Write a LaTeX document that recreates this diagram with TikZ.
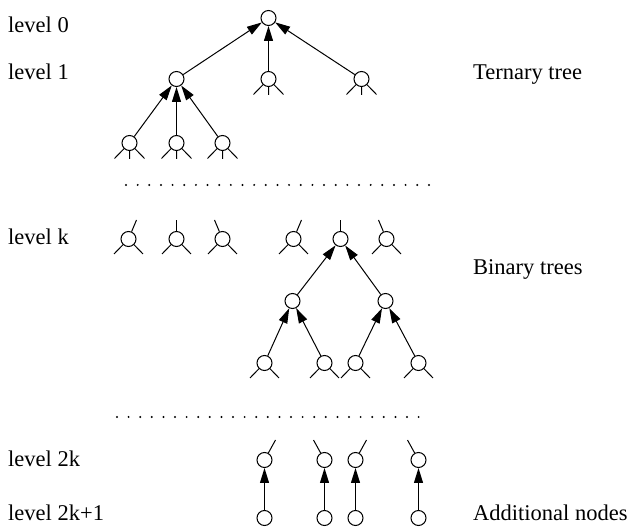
\documentclass[tikz,border=0pt]{standalone}
\usepackage{fontspec}
\setmainfont{Liberation Serif}
\usetikzlibrary{arrows.meta}
\begin{document}
\begin{tikzpicture}[x=1pt,y=-1pt,
  vx/.style={circle,draw,line width=1pt,minimum size=15pt,inner sep=0pt},
  leg/.style={line width=1pt},
  up/.style={line width=1pt,-{Triangle[length=15pt,width=9pt]}},
  lbl/.style={font=\fontsize{22.5}{22.5}\selectfont,inner sep=0pt,anchor=base west}]
\useasboundingbox (0,0) rectangle (630,529);

% ternary tree
\node[vx] (r)  at (268.5,18) {};
\node[vx] (a)  at (176.5,79) {};
\node[vx] (b)  at (268.5,79) {};
\node[vx] (c)  at (361.5,79) {};
\node[vx] (a1) at (129.5,143) {};
\node[vx] (a2) at (176.5,143) {};
\node[vx] (a3) at (222.5,143) {};
\foreach \s/\t in {a/r,b/r,c/r,a1/a,a2/a,a3/a}
  \draw[up] (\s) -- (\t);
\foreach \n in {b,c,a1,a2,a3}
  \draw[leg] (\n) -- +(-15,15.5) (\n) -- +(0,16) (\n) -- +(15,15.5);

% dotted separator
\foreach \i in {0,...,26}
  \fill (126+\i*11.65,185) circle (1.1pt);

% level k
\foreach \n/\x/\d in {k1/128.5/8,k2/176.5/0,k3/222.5/-8,k4/293.5/8,k5/340.5/0,k6/386.5/-8}{
  \node[vx] (\n) at (\x,239) {};
  \draw[leg] (\n) -- +(\d,-19);
}
\foreach \n in {k1,k2,k3,k4,k6}
  \draw[leg] (\n) -- +(-14.5,15) (\n) -- +(14.5,15);

% binary tree
\node[vx] (b1) at (292.5,301) {};
\node[vx] (b2) at (385.5,301) {};
\node[vx] (c1) at (264.5,363) {};
\node[vx] (c2) at (324.5,363) {};
\node[vx] (c3) at (355.5,363) {};
\node[vx] (c4) at (418.5,363) {};
\foreach \s/\t in {b1/k5,b2/k5,c1/b1,c2/b1,c3/b2,c4/b2}
  \draw[up] (\s) -- (\t);
\foreach \n in {c1,c2,c3,c4}
  \draw[leg] (\n) -- +(-14.5,15) (\n) -- +(14.5,15);

% dotted separator
\foreach \i in {0,...,26}
  \fill (117+\i*11.6,417) circle (1.1pt);

% levels 2k and 2k+1
\foreach \n/\m/\x/\d in {d1/e1/264.5/11,d2/e2/324.5/-11,d3/e3/355.5/11,d4/e4/418.5/-11}{
  \node[vx] (\n) at (\x,460) {};
  \node[vx] (\m) at (\x,518) {};
  \draw[leg] (\n) -- +(\d,-20);
  \draw[up] (\m) -- (\n);
}

% labels
\node[lbl] (l0)  at (8,32.5) {level 0};
\node[lbl] (l1)  at (8,80)   {level 1};
\node[lbl] (lk)  at (8,245)  {level k};
\node[lbl] (l2k) at (8,467)  {level 2k};
\node[lbl] (l2k1) at (8,521) {level 2k+1};
\node[lbl] (tt) at (473,80)  {Ternary tree};
\node[lbl] (bt) at (473,275) {Binary trees};
\node[lbl] (an) at (473,521) {Additional nodes};
\end{tikzpicture}
\end{document}
